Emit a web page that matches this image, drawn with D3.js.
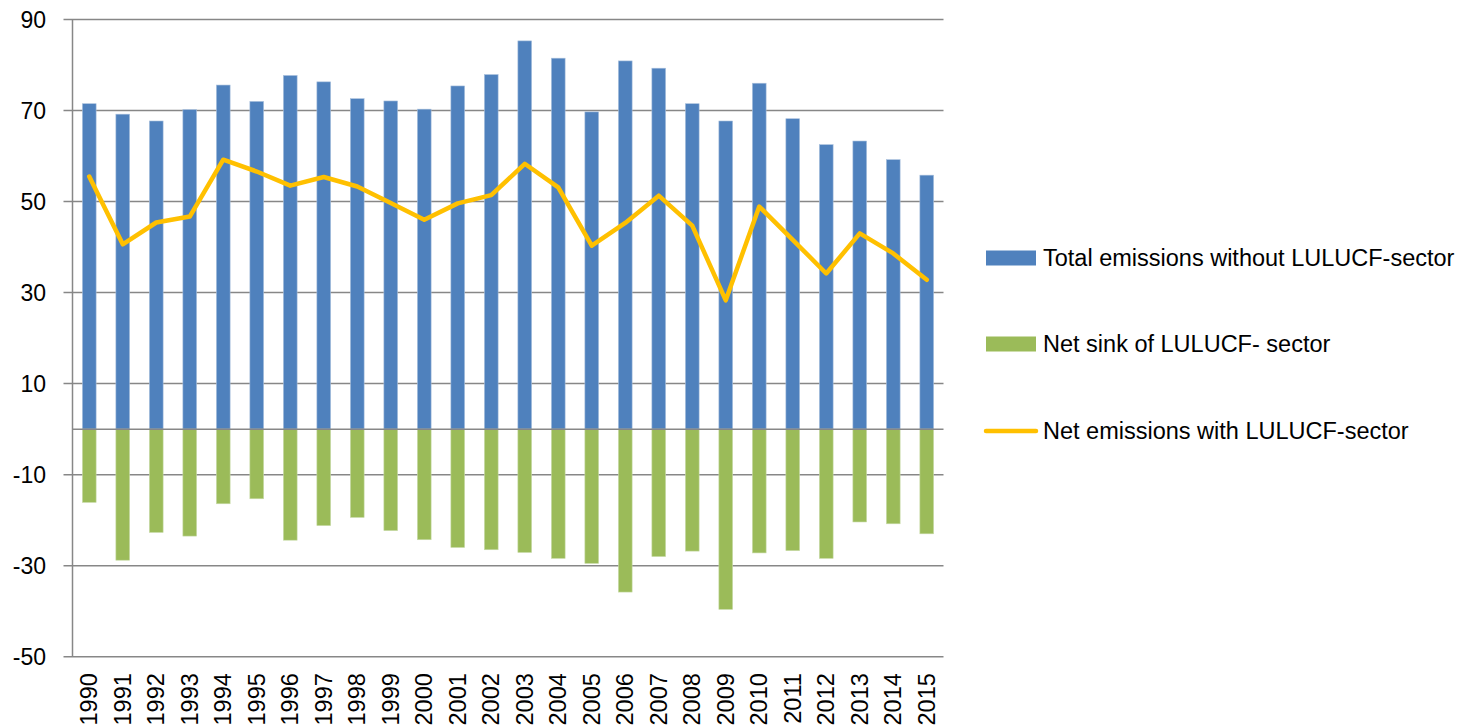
<!DOCTYPE html>
<html>
<head>
<meta charset="utf-8">
<script src="https://cdnjs.cloudflare.com/ajax/libs/d3/7.8.5/d3.min.js"></script>
<style>
  body { margin: 0; background: #fff; }
  text { font-family: "Liberation Sans", Arial, sans-serif; fill: #000; }
</style>
</head>
<body>
<div id="chart"></div>
<script>
var years = ["1990", "1991", "1992", "1993", "1994", "1995", "1996", "1997", "1998", "1999",
    "2000", "2001", "2002", "2003", "2004", "2005", "2006", "2007", "2008", "2009",
    "2010", "2011", "2012", "2013", "2014", "2015"];

// total emissions without LULUCF
var totalEmissions = [71.5, 69.2, 67.7, 70.2, 75.6, 72.0, 77.7, 76.3, 72.6, 72.1,
    70.3, 75.4, 77.9, 85.3, 81.5, 69.7, 80.9, 79.3, 71.5, 67.7,
    76.0, 68.2, 62.5, 63.3, 59.2, 55.8];

// net sink of LULUCF (negative)
var netSink = [-16.1, -28.8, -22.7, -23.5, -16.4, -15.3, -24.4, -21.2, -19.4, -22.3,
    -24.3, -26.0, -26.5, -27.1, -28.4, -29.5, -35.8, -28.0, -26.8, -39.6,
    -27.2, -26.7, -28.4, -20.4, -20.8, -23.0];

// net emissions with LULUCF
var netEmissions = [55.5, 40.6, 45.4, 46.7, 59.2, 56.6, 53.5, 55.4, 53.3, 49.7,
    46.0, 49.6, 51.4, 58.3, 53.1, 40.3, 45.3, 51.3, 44.7, 28.3,
    48.9, 41.6, 34.2, 43.0, 38.6, 32.8];

var yTicks = [90, 70, 50, 30, 10, -10, -30, -50];

var legendLabels = ["Total emissions without LULUCF-sector", "Net sink of LULUCF- sector", "Net emissions with LULUCF-sector"];

var colBlue = "#4f81bd", colGreen = "#9bbb59", colLine = "#ffc000", colGrid = "#878787";

var width = 1477, height = 728;
var margin = { top: 19.5, left: 72.5, right: 533.5, bottom: 71.3 };
var plotW = width - margin.left - margin.right;
var plotH = height - margin.top - margin.bottom;

var svg = d3.select("#chart").append("svg")
    .attr("width", width)
    .attr("height", height);

var g = svg.append("g")
    .attr("transform", "translate(" + margin.left + "," + margin.top + ")");

var x = d3.scaleBand()
    .domain(years)
    .range([0, plotW])
    .paddingInner(0.59)
    .paddingOuter(0.295);

var y = d3.scaleLinear()
    .domain([-50, 90])
    .range([plotH, 0]);

// gridlines (behind bars)
g.append("g")
    .selectAll("line")
    .data(yTicks)
    .enter()
    .append("line")
    .attr("x1", -9)
    .attr("x2", plotW)
    .attr("y1", function (d) { return y(d); })
    .attr("y2", function (d) { return y(d); })
    .attr("stroke", colGrid)
    .attr("stroke-width", 1.5);

// y tick labels
g.append("g")
    .selectAll("text")
    .data(yTicks)
    .enter()
    .append("text")
    .attr("x", -26.5)
    .attr("y", function (d) { return y(d); })
    .attr("dy", "0.35em")
    .attr("text-anchor", "end")
    .style("font-size", "23px")
    .text(function (d) { return d; });

// blue bars
g.append("g")
    .selectAll("rect")
    .data(totalEmissions)
    .enter()
    .append("rect")
    .attr("x", function (d, i) { return x(years[i]); })
    .attr("y", function (d) { return y(d); })
    .attr("width", x.bandwidth())
    .attr("height", function (d) { return y(0) - y(d); })
    .attr("fill", colBlue)
    .attr("stroke", "#a9c0dd")
    .attr("stroke-width", 0.6);

// green bars
g.append("g")
    .selectAll("rect")
    .data(netSink)
    .enter()
    .append("rect")
    .attr("x", function (d, i) { return x(years[i]); })
    .attr("y", y(0))
    .attr("width", x.bandwidth())
    .attr("height", function (d) { return y(d) - y(0); })
    .attr("fill", colGreen)
    .attr("stroke", "#c8dba8")
    .attr("stroke-width", 0.6);

// zero axis line over bars
g.append("line")
    .attr("x1", 0)
    .attr("x2", plotW)
    .attr("y1", y(0))
    .attr("y2", y(0))
    .attr("stroke", colGrid)
    .attr("stroke-width", 1.5);

// left axis line
g.append("line")
    .attr("x1", 0)
    .attr("x2", 0)
    .attr("y1", 0)
    .attr("y2", plotH)
    .attr("stroke", colGrid)
    .attr("stroke-width", 1.5);

// net emissions line
var line = d3.line()
    .x(function (d, i) { return x(years[i]) + x.bandwidth() / 2; })
    .y(function (d) { return y(d); });

g.append("path")
    .datum(netEmissions)
    .attr("d", line)
    .attr("fill", "none")
    .attr("stroke", colLine)
    .attr("stroke-width", 4.5)
    .attr("stroke-linejoin", "round")
    .attr("stroke-linecap", "round");

// year labels, rotated
g.append("g")
    .selectAll("text")
    .data(years)
    .enter()
    .append("text")
    .attr("transform", function (d) {
        return "translate(" + (x(d) + x.bandwidth() / 2) + "," + (plotH + 16.5) + ") rotate(-90)";
    })
    .attr("dy", "0.35em")
    .attr("text-anchor", "end")
    .style("font-size", "23.5px")
    .text(function (d) { return d; });

// legend
var legend = svg.append("g");
var legendY = [258, 344, 431];

legend.append("rect")
    .attr("x", 986).attr("y", legendY[0] - 7.5)
    .attr("width", 50).attr("height", 15)
    .attr("fill", colBlue);

legend.append("rect")
    .attr("x", 986).attr("y", legendY[1] - 7.5)
    .attr("width", 50).attr("height", 15)
    .attr("fill", colGreen);

legend.append("line")
    .attr("x1", 986).attr("x2", 1036)
    .attr("y1", legendY[2]).attr("y2", legendY[2])
    .attr("stroke", colLine)
    .attr("stroke-width", 4.5)
    .attr("stroke-linecap", "round");

legend.selectAll("text.leg")
    .data(legendLabels)
    .enter()
    .append("text")
    .attr("class", "leg")
    .attr("x", 1043)
    .attr("y", function (d, i) { return legendY[i]; })
    .attr("dy", "0.35em")
    .style("font-size", "23.5px")
    .text(function (d) { return d; });
</script>
</body>
</html>
